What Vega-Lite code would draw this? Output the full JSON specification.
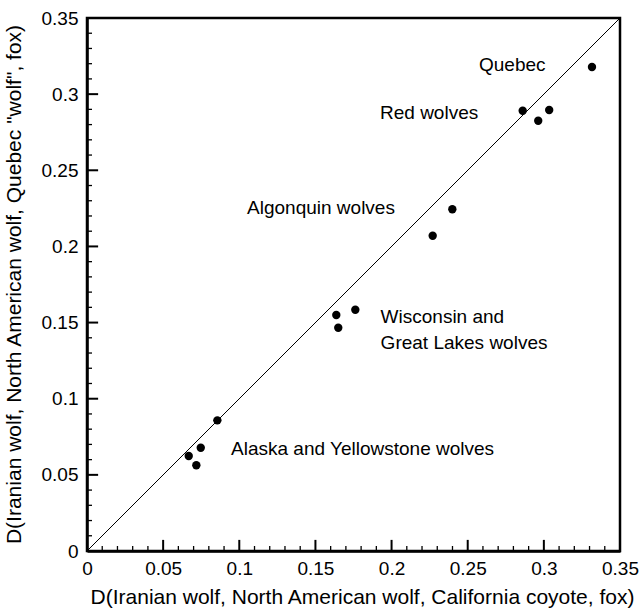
{
  "$schema": "https://vega.github.io/schema/vega-lite/v6.json",
  "width": 533,
  "height": 533,
  "autosize": {"type": "none"},
  "padding": {"left": 87, "top": 18, "right": 24, "bottom": 58},
  "background": "white",
  "config": {
    "view": {"stroke": "black", "strokeWidth": 2.5},
    "font": "Liberation Sans",
    "axis": {"grid": false, "labelFont": "Liberation Sans", "titleFont": "Liberation Sans", "labelColor": "black", "titleColor": "black", "titleFontWeight": "normal", "domainColor": "black", "tickColor": "black"}
  },
  "datasets": {
    "pts": [
      {"x": 0.0856, "y": 0.0858},
      {"x": 0.0747, "y": 0.0678},
      {"x": 0.0668, "y": 0.0624},
      {"x": 0.0718, "y": 0.0563},
      {"x": 0.1762, "y": 0.1584},
      {"x": 0.1637, "y": 0.1550},
      {"x": 0.1650, "y": 0.1466},
      {"x": 0.2399, "y": 0.2244},
      {"x": 0.2270, "y": 0.2070},
      {"x": 0.2861, "y": 0.2891},
      {"x": 0.3035, "y": 0.2896},
      {"x": 0.2963, "y": 0.2825},
      {"x": 0.3316, "y": 0.3178}
    ],
    "labels": [
      {"x": 0.2574, "y": 0.3191, "t": "Quebec"},
      {"x": 0.1924, "y": 0.2878, "t": "Red wolves"},
      {"x": 0.1051, "y": 0.2252, "t": "Algonquin wolves"},
      {"x": 0.1928, "y": 0.1538, "t": "Wisconsin and"},
      {"x": 0.1928, "y": 0.1366, "t": "Great Lakes wolves"},
      {"x": 0.0946, "y": 0.0673, "t": "Alaska and Yellowstone wolves"}
    ],
    "diag": [{"x": 0, "y": 0, "x2": 0.35, "y2": 0.35}],
    "majorX": [{"x": 0.05, "y": 0}, {"x": 0.1, "y": 0}, {"x": 0.15, "y": 0}, {"x": 0.2, "y": 0}, {"x": 0.25, "y": 0}, {"x": 0.3, "y": 0}],
    "majorY": [{"y": 0.05, "x": 0}, {"y": 0.1, "x": 0}, {"y": 0.15, "x": 0}, {"y": 0.2, "x": 0}, {"y": 0.25, "x": 0}, {"y": 0.3, "x": 0}],
    "minorX": [{"x": 0.01, "y": 0},{"x": 0.02, "y": 0},{"x": 0.03, "y": 0},{"x": 0.04, "y": 0},{"x": 0.06, "y": 0},{"x": 0.07, "y": 0},{"x": 0.08, "y": 0},{"x": 0.09, "y": 0},{"x": 0.11, "y": 0},{"x": 0.12, "y": 0},{"x": 0.13, "y": 0},{"x": 0.14, "y": 0},{"x": 0.16, "y": 0},{"x": 0.17, "y": 0},{"x": 0.18, "y": 0},{"x": 0.19, "y": 0},{"x": 0.21, "y": 0},{"x": 0.22, "y": 0},{"x": 0.23, "y": 0},{"x": 0.24, "y": 0},{"x": 0.26, "y": 0},{"x": 0.27, "y": 0},{"x": 0.28, "y": 0},{"x": 0.29, "y": 0},{"x": 0.31, "y": 0},{"x": 0.32, "y": 0},{"x": 0.33, "y": 0},{"x": 0.34, "y": 0}],
    "minorY": [{"y": 0.01, "x": 0},{"y": 0.02, "x": 0},{"y": 0.03, "x": 0},{"y": 0.04, "x": 0},{"y": 0.06, "x": 0},{"y": 0.07, "x": 0},{"y": 0.08, "x": 0},{"y": 0.09, "x": 0},{"y": 0.11, "x": 0},{"y": 0.12, "x": 0},{"y": 0.13, "x": 0},{"y": 0.14, "x": 0},{"y": 0.16, "x": 0},{"y": 0.17, "x": 0},{"y": 0.18, "x": 0},{"y": 0.19, "x": 0},{"y": 0.21, "x": 0},{"y": 0.22, "x": 0},{"y": 0.23, "x": 0},{"y": 0.24, "x": 0},{"y": 0.26, "x": 0},{"y": 0.27, "x": 0},{"y": 0.28, "x": 0},{"y": 0.29, "x": 0},{"y": 0.31, "x": 0},{"y": 0.32, "x": 0},{"y": 0.33, "x": 0},{"y": 0.34, "x": 0}]
  },
  "encoding": {
    "x": {"field": "x", "type": "quantitative", "scale": {"domain": [0, 0.35], "nice": false, "zero": false},
      "axis": {"orient": "bottom", "values": [0, 0.05, 0.1, 0.15, 0.2, 0.25, 0.3, 0.35], "format": "~g", "ticks": false,
        "domainWidth": 2.5, "labelFontSize": 19, "labelPadding": 8, "labelFlush": false, "labelOverlap": false,
        "title": "D(Iranian wolf, North American wolf, California coyote, fox)", "titleFontSize": 21, "titleBaseline": "middle", "titleY": 46, "titleX": 275}},
    "y": {"field": "y", "type": "quantitative", "scale": {"domain": [0, 0.35], "nice": false, "zero": false},
      "axis": {"orient": "left", "values": [0, 0.05, 0.1, 0.15, 0.2, 0.25, 0.3, 0.35], "format": "~g", "ticks": false,
        "domainWidth": 2.5, "labelFontSize": 19, "labelPadding": 9, "labelFlush": false, "labelOverlap": false,
        "title": "D(Iranian wolf, North American wolf, Quebec \"wolf\", fox)", "titleFontSize": 21, "titleBaseline": "middle", "titleX": -73, "titleY": 266}}
  },
  "layer": [
    {
      "data": {"name": "diag"},
      "mark": {"type": "rule", "color": "black", "strokeWidth": 1},
      "encoding": {
        "x2": {"field": "x2"},
        "y2": {"field": "y2"}
      }
    },
    {
      "data": {"name": "minorX"},
      "mark": {"type": "rule", "color": "black", "strokeWidth": 1.3},
      "encoding": {"y2": {"datum": 0.0033}}
    },
    {
      "data": {"name": "minorY"},
      "mark": {"type": "rule", "color": "black", "strokeWidth": 1.3},
      "encoding": {"x2": {"datum": 0.0033}}
    },
    {
      "data": {"name": "majorX"},
      "mark": {"type": "rule", "color": "black", "strokeWidth": 2},
      "encoding": {"y2": {"datum": 0.0073}}
    },
    {
      "data": {"name": "majorY"},
      "mark": {"type": "rule", "color": "black", "strokeWidth": 2},
      "encoding": {"x2": {"datum": 0.0073}}
    },
    {
      "data": {"name": "pts"},
      "mark": {"type": "circle", "color": "black", "opacity": 1, "size": 70},
      "encoding": {}
    },
    {
      "data": {"name": "labels"},
      "mark": {"type": "text", "align": "left", "baseline": "middle", "fontSize": 19, "color": "black", "font": "Liberation Sans"},
      "encoding": {
        "text": {"field": "t"}
      }
    }
  ]
}
